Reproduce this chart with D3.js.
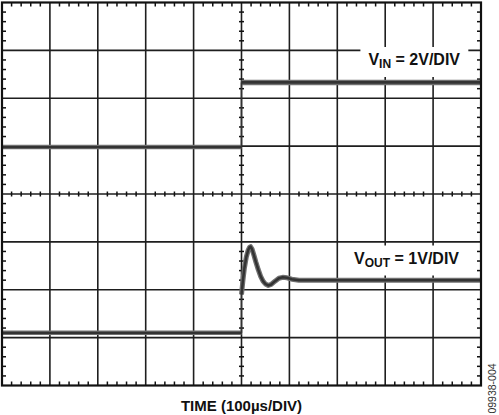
<!DOCTYPE html>
<html>
<head>
<meta charset="utf-8">
<script src="https://cdn.jsdelivr.net/npm/d3@7"></script>
<style>
  html, body { margin: 0; padding: 0; background: #fff; }
  svg { display: block; }
  text { font-family: "Liberation Sans", Arial, Helvetica, sans-serif; }
</style>
</head>
<body>
<svg id="chart" width="499" height="415"></svg>
<script>
// ---- Data ----
// time in µs, 100 µs/div, trigger at 0
const timeDomain = [-500, 500];
const divDomain = [-4, 4];           // vertical divisions
const vinVoltsPerDiv = 2;
const voutVoltsPerDiv = 1;
const vinGroundDiv = 0.98;           // channel ground offsets (divisions)
const voutGroundDiv = -2.9;

// VIN: step 0 V -> 2.7 V at t = 0
const vinBefore = [[-500, 0], [0, 0]];
const vinAfter  = [[0, 2.7], [500, 2.7]];

// VOUT: 0 V, then overshoot and settle at 1.1 V
const voutBefore = [[-500, 0], [0, 0]];
const voutAfter = [
  [0, 0.8], [3, 1.1], [6, 1.35], [10, 1.58], [14, 1.73], [17, 1.79], [19, 1.8],
  [22, 1.75], [26, 1.62], [30, 1.48], [35, 1.32], [40, 1.18], [45, 1.08],
  [50, 1.02], [56, 0.99], [62, 1.01], [70, 1.08], [78, 1.14], [86, 1.16],
  [95, 1.15], [105, 1.12], [120, 1.1], [500, 1.1]
];

const labels = [
  { main: "V", sub: "IN", rest: " = 2V/DIV" },
  { main: "V", sub: "OUT", rest: " = 1V/DIV" }
];
const xTitle = "TIME (100µs/DIV)";
const figId = "09938-004";

// ---- Layout ----
const L = 2, R = 481, T = 2.5, B = 385.5;
const svg = d3.select("#chart");
const x = d3.scaleLinear().domain(timeDomain).range([L, R]);
const yDiv = d3.scaleLinear().domain(divDomain).range([B, T]);
const yVin = v => yDiv(vinGroundDiv + v / vinVoltsPerDiv);
const yVout = v => yDiv(voutGroundDiv + v / voutVoltsPerDiv);

const gridColor = "#1e1e1e";
const xMajor = d3.range(-500, 501, 100);
const yMajor = d3.range(-4, 5, 1);
const xMinor = d3.range(-500, 501, 20).filter(t => t % 100 !== 0);
const yMinor = d3.range(-4, 4.01, 0.2).filter(d => Math.abs(d - Math.round(d)) > 1e-6);

const g = svg.append("g");

// grid lines
g.selectAll("line.vg").data(xMajor.slice(1, -1)).join("line")
  .attr("x1", d => x(d)).attr("x2", d => x(d))
  .attr("y1", T).attr("y2", B)
  .attr("stroke", gridColor).attr("stroke-width", 1.6);
g.selectAll("line.hg").data(yMajor.slice(1, -1)).join("line")
  .attr("x1", L).attr("x2", R)
  .attr("y1", d => yDiv(d)).attr("y2", d => yDiv(d))
  .attr("stroke", gridColor).attr("stroke-width", 1.6);

// minor ticks on border (inside) and on center cross
const tk = 4, ctk = 2.5;
const ticks = g.append("g").attr("stroke", "#111").attr("stroke-width", 1.5);
xMinor.forEach(t => {
  ticks.append("line").attr("x1", x(t)).attr("x2", x(t)).attr("y1", T).attr("y2", T + tk);
  ticks.append("line").attr("x1", x(t)).attr("x2", x(t)).attr("y1", B).attr("y2", B - tk);
  ticks.append("line").attr("x1", x(t)).attr("x2", x(t)).attr("y1", yDiv(0) - ctk).attr("y2", yDiv(0) + ctk);
});
yMinor.forEach(d => {
  ticks.append("line").attr("y1", yDiv(d)).attr("y2", yDiv(d)).attr("x1", L).attr("x2", L + tk);
  ticks.append("line").attr("y1", yDiv(d)).attr("y2", yDiv(d)).attr("x1", R).attr("x2", R - tk);
  ticks.append("line").attr("y1", yDiv(d)).attr("y2", yDiv(d)).attr("x1", x(0) - ctk).attr("x2", x(0) + ctk);
});

// label boxes + text
const labelPos = [
  { xEnd: 460, baseline: 65 },
  { xEnd: 459, baseline: 263.5 }
];
labels.forEach((lb, i) => {
  const gl = svg.append("g");
  const rect = gl.append("rect").attr("fill", "#fff");
  const txt = gl.append("text")
    .attr("font-size", 16).attr("font-weight", "bold").attr("fill", "#111")
    .attr("y", labelPos[i].baseline);
  txt.append("tspan").text(lb.main);
  txt.append("tspan").attr("font-size", 12).attr("dy", 3).text(lb.sub);
  txt.append("tspan").attr("dy", -3).text(lb.rest);
  const w = txt.node().getComputedTextLength();
  txt.attr("x", labelPos[i].xEnd - w);
  const bb = txt.node().getBBox();
  rect.attr("x", bb.x - 8).attr("y", labelPos[i].baseline - 18)
      .attr("width", bb.width + 16).attr("height", 30);
});

// traces
const line = (yf) => d3.line().x(d => x(d[0])).y(d => yf(d[1]));
function trace(data, yf, w) {
  svg.append("path").datum(data).attr("d", line(yf))
    .attr("fill", "none").attr("stroke", "#707070").attr("stroke-width", w)
    .attr("stroke-linejoin", "round");
  svg.append("path").datum(data).attr("d", line(yf))
    .attr("fill", "none").attr("stroke", "#333").attr("stroke-width", w * 0.5)
    .attr("stroke-linejoin", "round");
}
trace(vinBefore, yVin, 4.5);
trace(vinAfter, yVin, 5.5);
trace(voutBefore, yVout, 4.5);
trace(voutAfter, yVout, 5);
// fast edges (thin)
[[vinBefore, vinAfter, yVin], [voutBefore, voutAfter, yVout]].forEach(([a, b, yf]) => {
  const p0 = a[a.length - 1], p1 = b[0];
  svg.append("line")
    .attr("x1", x(p0[0])).attr("x2", x(p1[0]))
    .attr("y1", yf(p0[1])).attr("y2", yf(p1[1]))
    .attr("stroke", "#333").attr("stroke-width", 1.5);
});

// border
svg.append("rect").attr("x", L).attr("y", T).attr("width", R - L).attr("height", B - T)
  .attr("fill", "none").attr("stroke", "#111").attr("stroke-width", 2.2);

// x title
svg.append("text").attr("x", 241.5).attr("y", 411).attr("text-anchor", "middle")
  .attr("font-size", 15).attr("font-weight", "bold").attr("fill", "#111").text(xTitle);

// figure id
svg.append("text").attr("transform", "translate(496,388.5) rotate(-90)")
  .attr("text-anchor", "middle").attr("font-size", 10.5).attr("fill", "#333").text(figId);
</script>
</body>
</html>
